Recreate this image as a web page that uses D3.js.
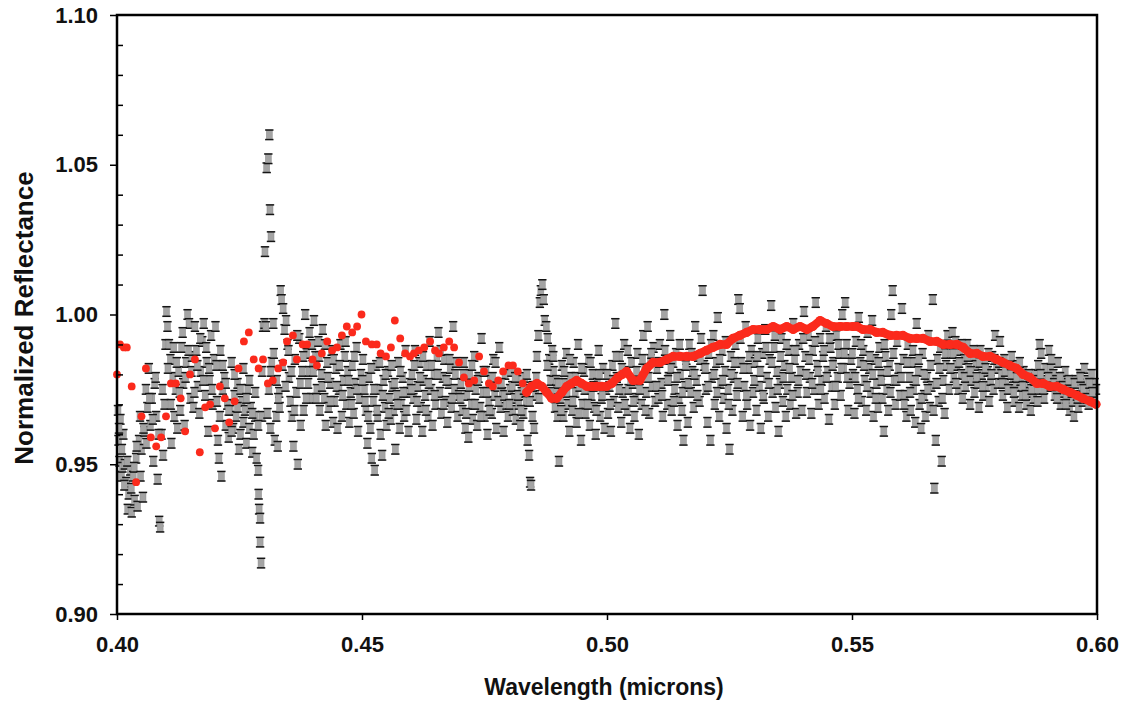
<!DOCTYPE html>
<html><head><meta charset="utf-8">
<script src="https://cdn.jsdelivr.net/npm/d3@7"></script>
<style>body{margin:0;background:#fff}svg{display:block}</style>
</head><body><svg id="c" width="1127" height="704"></svg>
<script>
// ---- axis ticks (wavelength stored in nm, labelled in microns)
const xTicks=[400,450,500,550,600];
const xTickLabels=["0.40","0.45","0.50","0.55","0.60"];
const yTicks=[0.90,0.95,1.00,1.05,1.10];
const yTickLabels=["0.90","0.95","1.00","1.05","1.10"];
const yMinorTicks=[0.91,0.92,0.93,0.94,0.96,0.97,0.98,0.99,1.01,1.02,1.03,1.04,1.06,1.07,1.08,1.09];
const xTitle="Wavelength (microns)";
const yTitle="Normalized Reflectance";
const grayErr=0.0016;

// ---- gray spectrum with error bars: [wavelength nm, reflectance]
const gray400=[[400.2,.968],[400.3,.958],[400.5,.951],[400.7,.965],[400.9,.946],[401.1,.949],[401.3,.960],[401.6,.950],[401.9,.944],[402.2,.935],[402.4,.940],[402.7,.948],[403.0,.934],[403.3,.946],[403.6,.938],[403.9,.952],[404.2,.936],[404.5,.958],[404.7,.966],[405.0,.955],[405.3,.939],[405.6,.961],[405.9,.975],[406.2,.969],[406.5,.982],[406.8,.963],[407.1,.972],[407.4,.951],[407.7,.977],[408.0,.966],[408.3,.945],[408.6,.931],[408.8,.929],[409.1,.960],[409.4,.953],[409.7,.970],
 [400.4,.962],[401.0,.955],[401.5,.943],[402.1,.951],[402.9,.942],[403.5,.949],[404.0,.956],[404.8,.946],[405.4,.962],[406.0,.957],[406.6,.972],[407.3,.965],[407.9,.979],[408.5,.960],[409.3,.975],[409.9,.990]];
const gray410=[[410.1,1.001],[410.3,.996],[410.6,.990],[410.9,.985],[411.1,.957],[411.4,.979],[411.7,.966],[412.0,.975],[412.3,.962],[412.6,.981],[412.9,.968],[413.2,.989],[413.5,.977],[413.8,.963],[414.1,.984],[414.4,1.000],[414.7,.997],[415.0,.972],[415.3,.986],[415.6,.969],[415.9,.996],[416.2,.988],[416.5,.976],[416.8,.967],[417.1,.981],[417.4,.991],[417.7,.997],[418.0,.973],[418.3,.984],[418.6,.961],[418.9,.978],[419.2,.993],[419.5,.970],[419.8,.985],
 [410.4,.982],[411.0,.970],[411.6,.989],[412.2,.984],[412.8,.974],[413.4,.994],[414.0,.979],[414.6,.988],[415.2,.981],[415.8,.974],[416.4,.983],[417.0,.992],[417.6,.978],[418.2,.989],[418.8,.982],[419.4,.975]];
const gray420=[[420.1,.996],[420.3,.983],[420.6,.958],[420.8,.952],[421.1,.988],[421.3,.946],[421.6,.975],[421.9,.979],[422.2,.963],[422.5,.970],[422.8,.959],[423.1,.968],[423.4,.984],[423.7,.962],[424.0,.973],[424.3,.966],[424.6,.977],[424.9,.955],[425.2,.960],[425.5,.971],[425.8,.964],[426.1,.968],[426.4,.957],[426.7,.975],[427.0,.962],[427.3,.969],[427.6,.954],[427.9,.960],[428.2,.966],[428.5,.952],[428.8,.948],[428.9,.940],[429.0,.935],[429.2,.932],[429.2,.924],[429.4,.917],[429.6,.966],[429.8,.996],
 [420.4,.971],[421.0,.966],[421.6,.983],[422.2,.977],[422.8,.968],[423.4,.961],[424.0,.980],[424.6,.969],[425.2,.975],[425.8,.982],[426.4,.972],[427.0,.978],[427.6,.967],[428.2,.974],[428.8,.963],[429.6,.981]];
const gray430=[[430.1,.997],[430.2,1.021],[430.4,.996],[430.55,1.049],[430.7,.967],[430.88,1.052],[431.0,.975],[431.08,1.060],[431.22,1.035],[431.3,.962],[431.43,1.026],[431.6,.984],[431.9,.997],[432.2,.958],[432.5,.966],[432.8,.956],[433.1,.974],[433.4,1.008],[433.6,1.005],[433.9,1.002],[434.2,.995],[434.5,.998],[434.8,.990],[435.1,.979],[435.4,.971],[435.7,.966],[436.0,.956],[436.3,.985],[436.6,.974],[436.9,.950],[437.2,.992],[437.5,.963],[437.8,.981],[438.1,.968],[438.4,1.000],[438.7,.987],[439.0,.977],[439.3,.994],[439.6,.972],[439.9,.983],
 [432.0,.987],[432.6,.978],[433.2,.969],[433.8,.983],[434.4,.976],[435.0,.988],[435.6,.981],[436.2,.968],[436.8,.993],[437.4,.977],[438.0,.986],[438.6,.972],[439.2,.981],[439.8,.990],[431.4,.981],[432.9,.972]];
const gray440=[[440.2,.998],[440.5,.986],[440.8,.975],[441.1,.991],[441.4,.968],[441.7,.980],[442.0,.995],[442.3,.972],[442.6,.963],[442.9,.984],[443.2,.969],[443.5,.977],[443.8,.988],[444.1,.964],[444.4,.971],[444.7,.982],[445.0,.962],[445.3,.975],[445.6,.990],[445.9,.966],[446.2,.978],[446.5,.986],[446.8,.970],[447.1,.981],[447.4,.964],[447.7,.974],[448.0,.983],[448.3,.967],[448.6,.977],[448.9,.989],[449.2,.961],[449.5,.972],[449.8,.980],
 [440.05,.981],[440.65,.972],[441.25,.986],[441.85,.976],[442.45,.990],[443.05,.979],[443.65,.971],[444.25,.985],[444.85,.976],[445.45,.983],[446.05,.973],[446.65,.991],[447.25,.978],[447.85,.970],[448.45,.986],[449.05,.975]];
const gray450=[[450.2,.985],[450.5,.975],[450.8,.968],[451.1,.957],[451.4,.979],[451.7,.962],[452.0,.952],[452.3,.971],[452.6,.948],[452.9,.983],[453.2,.966],[453.5,.975],[453.8,.960],[454.1,.953],[454.4,.978],[454.7,.969],[455.0,.963],[455.3,.981],[455.6,.972],[455.9,.965],[456.2,.976],[456.5,.968],[456.8,.955],[457.1,.973],[457.4,.984],[457.7,.962],[458.0,.970],[458.3,.979],[458.6,.966],[458.9,.988],[459.2,.974],[459.5,.961],[459.8,.977],
 [450.05,.978],[450.65,.971],[451.25,.966],[451.85,.982],[452.45,.975],[453.05,.968],[453.65,.984],[454.25,.973],[454.85,.980],[455.45,.967],[456.05,.983],[456.65,.977],[457.25,.970],[457.85,.981],[458.45,.974],[459.05,.968]];
const gray460=[[460.2,.980],[460.5,.972],[460.8,.988],[461.1,.965],[461.4,.976],[461.7,.984],[462.0,.969],[462.3,.961],[462.6,.978],[462.9,.973],[463.2,.983],[463.5,.966],[463.8,.991],[464.1,.975],[464.4,.963],[464.7,.980],[465.0,.970],[465.3,.986],[465.6,.994],[465.9,.974],[466.2,.967],[466.5,.979],[466.8,.985],[467.1,.971],[467.4,.964],[467.7,.977],[468.0,.982],[468.3,.969],[468.6,.996],[468.9,.975],[469.2,.984],[469.5,.966],[469.8,.973],
 [460.05,.975],[460.65,.983],[461.25,.971],[461.85,.979],[462.45,.986],[463.05,.968],[463.65,.977],[464.25,.983],[464.85,.973],[465.45,.980],[466.05,.988],[466.65,.970],[467.25,.978],[467.85,.985],[468.45,.972],[469.05,.980]];
const gray470=[[470.2,.977],[470.5,.968],[470.8,.984],[471.1,.962],[471.4,.973],[471.7,.959],[472.0,.980],[472.3,.970],[472.6,.965],[472.9,.986],[473.2,.975],[473.5,.963],[473.8,.979],[474.1,.969],[474.4,.992],[474.7,.974],[475.0,.966],[475.3,.981],[475.6,.960],[475.9,.971],[476.2,.978],[476.5,.967],[476.8,.985],[477.1,.973],[477.4,.962],[477.7,.976],[478.0,.989],[478.3,.969],[478.6,.974],[478.9,.961],[479.2,.980],[479.5,.970],[479.8,.966],
 [470.05,.972],[470.65,.980],[471.25,.967],[471.85,.976],[472.45,.983],[473.05,.970],[473.65,.978],[474.25,.966],[474.85,.981],[475.45,.974],[476.05,.968],[476.65,.979],[477.25,.984],[477.85,.971],[478.45,.977],[479.05,.973]];
const gray480=[[480.2,.975],[480.5,.981],[480.8,.968],[481.1,.972],[481.4,.965],[481.7,.978],[482.0,.970],[482.3,.963],[482.6,.974],[482.9,.967],[483.2,.979],[483.5,.971],[483.8,.958],[484.1,.953],[484.3,.944],[484.5,.943],[484.8,.966],[485.1,.962],[485.4,.973],[485.7,.986],[486.0,.993],[486.3,1.004],[486.5,1.008],[486.8,1.010],[487.1,1.005],[487.3,.998],[487.6,.996],[487.9,.992],[488.2,.985],[488.5,.978],[488.8,.988],[489.1,.981],[489.4,.969],[489.7,.975],
 [480.05,.970],[480.65,.976],[481.25,.979],[481.85,.973],[482.45,.968],[483.05,.975],[483.65,.980],[484.25,.971],[484.85,.976],[485.55,.979],[486.15,.972],[487.85,.983],[488.45,.974],[489.05,.986],[489.65,.978],[489.9,.966]];
const gray490=[[490.2,.951],[490.5,.972],[490.8,.983],[491.1,.966],[491.4,.977],[491.7,.987],[492.0,.970],[492.3,.961],[492.6,.979],[492.9,.968],[493.2,.984],[493.5,.974],[493.8,.964],[494.1,.990],[494.4,.976],[494.7,.958],[495.0,.970],[495.3,.981],[495.6,.967],[495.9,.975],[496.2,.985],[496.5,.963],[496.8,.973],[497.1,.980],[497.4,.969],[497.7,.960],[498.0,.977],[498.3,.988],[498.6,.966],[498.9,.972],[499.2,.982],[499.5,.962],[499.8,.975],
 [490.05,.977],[490.65,.968],[491.25,.981],[491.85,.974],[492.45,.985],[493.05,.971],[493.65,.979],[494.25,.967],[494.85,.982],[495.45,.975],[496.05,.970],[496.65,.984],[497.25,.976],[497.85,.968],[498.45,.980],[499.05,.973]];
const gray500=[[500.2,.967],[500.5,.976],[500.8,.961],[501.1,.983],[501.4,.971],[501.7,.997],[502.0,.979],[502.3,.969],[502.6,.986],[502.9,.964],[503.2,.974],[503.5,.990],[503.8,.981],[504.1,.968],[504.4,.975],[504.7,.962],[505.0,.984],[505.3,.977],[505.6,.966],[505.9,.972],[506.2,.987],[506.5,.960],[506.8,.979],[507.1,.970],[507.4,.993],[507.7,.982],[508.0,.974],[508.3,.996],[508.6,.967],[508.9,.985],[509.2,.976],[509.5,.989],[509.8,.971],
 [500.05,.980],[500.65,.970],[501.25,.978],[501.85,.986],[502.45,.975],[503.05,.982],[503.65,.970],[504.25,.988],[504.85,.978],[505.45,.971],[506.05,.981],[506.65,.975],[507.25,.985],[507.85,.968],[508.45,.979],[509.05,.987]];
const gray510=[[510.2,.982],[510.5,.972],[510.8,.990],[511.1,.977],[511.4,.966],[511.7,1.000],[512.0,.985],[512.3,.970],[512.6,.979],[512.9,.993],[513.2,.968],[513.5,.984],[513.8,.975],[514.1,.987],[514.4,.963],[514.7,.972],[515.0,.980],[515.3,.968],[515.6,.958],[515.9,.976],[516.2,.985],[516.5,.964],[516.8,.990],[517.1,.974],[517.4,.981],[517.7,.969],[518.0,.996],[518.3,.978],[518.6,.986],[518.9,.971],[519.2,.992],[519.5,1.008],[519.8,.983],
 [510.05,.976],[510.65,.984],[511.25,.973],[511.85,.988],[512.45,.978],[513.05,.982],[513.65,.971],[514.25,.979],[514.85,.990],[515.45,.974],[516.05,.983],[516.65,.977],[517.25,.987],[517.85,.980],[518.45,.973],[519.05,.985]];
const gray520=[[520.2,.975],[520.5,.964],[520.8,.987],[521.1,.958],[521.4,.979],[521.7,.993],[522.0,.970],[522.3,.984],[522.6,.999],[522.9,.966],[523.2,.977],[523.5,.988],[523.8,.972],[524.1,.981],[524.4,.962],[524.7,.975],[525.0,.955],[525.3,.986],[525.6,.968],[525.9,.979],[526.2,.990],[526.5,.973],[526.8,1.005],[527.1,1.002],[527.4,.984],[527.7,.966],[528.0,.976],[528.3,.996],[528.6,.970],[528.9,.982],[529.2,.963],[529.5,.988],[529.8,.974],
 [520.05,.982],[520.65,.976],[521.25,.990],[521.85,.980],[522.45,.974],[523.05,.985],[523.65,.978],[524.25,.991],[524.85,.970],[525.45,.980],[526.05,.984],[526.65,.977],[527.25,.992],[527.85,.982],[528.45,.973],[529.05,.986]];
const gray530=[[530.2,.984],[530.5,.968],[530.8,.992],[531.1,.976],[531.4,.962],[531.7,.987],[532.0,.972],[532.3,.995],[532.6,.979],[532.9,.966],[533.2,.985],[533.5,1.003],[533.8,.974],[534.1,.989],[534.4,.969],[534.7,.981],[535.0,.961],[535.3,.977],[535.6,.992],[535.9,.971],[536.2,.983],[536.5,.966],[536.8,.975],[537.1,.988],[537.4,.970],[537.7,.979],[538.0,.997],[538.3,.985],[538.6,.967],[538.9,.974],[539.2,.990],[539.5,.981],[539.8,.968],
 [530.05,.978],[530.65,.986],[531.25,.981],[531.85,.973],[532.45,.989],[533.05,.977],[533.65,.984],[534.25,.993],[534.85,.975],[535.45,.986],[536.05,.979],[536.65,.990],[537.25,.982],[537.85,.973],[538.45,.988],[539.05,.978]];
const gray540=[[540.2,1.001],[540.5,.986],[540.8,.974],[541.1,.993],[541.4,.979],[541.7,.967],[542.0,.988],[542.3,.975],[542.6,1.004],[542.9,.983],[543.2,.970],[543.5,.992],[543.8,.978],[544.1,.986],[544.4,.972],[544.7,.996],[545.0,.981],[545.3,.965],[545.6,.989],[545.9,.976],[546.2,.984],[546.5,.970],[546.8,.993],[547.1,.979],[547.4,.987],[547.7,.973],[548.0,1.000],[548.3,.982],[548.6,1.004],[548.9,.990],[549.2,.968],[549.5,.977],[549.8,.985],
 [540.05,.992],[540.65,.980],[541.25,.985],[541.85,.977],[542.45,.991],[543.05,.981],[543.65,.975],[544.25,.988],[544.85,.979],[545.45,.992],[546.05,.983],[546.65,.976],[547.25,.990],[547.85,.982],[548.45,.987],[549.05,.979]];
const gray550=[[550.2,.980],[550.5,.967],[550.8,.991],[551.1,.975],[551.4,.999],[551.7,.984],[552.0,.971],[552.3,.988],[552.6,.978],[552.9,.968],[553.2,.994],[553.5,.982],[553.8,.974],[554.1,.998],[554.4,.966],[554.7,.985],[555.0,.977],[555.3,.969],[555.6,.989],[555.9,.980],[556.2,.972],[556.5,.961],[556.8,.986],[557.1,.975],[557.4,.968],[557.7,.983],[558.0,1.000],[558.3,1.008],[558.6,.978],[558.9,.970],[559.2,.991],[559.5,.982],[559.8,.973],
 [550.05,.987],[550.65,.979],[551.25,.972],[551.85,.990],[552.45,.983],[553.05,.976],[553.65,.986],[554.25,.980],[554.85,.972],[555.45,.984],[556.05,.978],[556.65,.990],[557.25,.981],[557.85,.974],[558.45,.987],[559.05,.978]];
const gray560=[[560.2,1.002],[560.5,.985],[560.8,.973],[561.1,.966],[561.4,.990],[561.7,.979],[562.0,.968],[562.3,.984],[562.6,.975],[562.9,.964],[563.2,.997],[563.5,.981],[563.8,.970],[564.1,.962],[564.4,.987],[564.7,.973],[565.0,.966],[565.3,.979],[565.6,.993],[565.9,.969],[566.2,.976],[566.5,1.005],[566.8,.942],[567.1,.958],[567.4,.985],[567.7,.971],[568.0,.989],[568.3,.951],[568.6,.978],[568.9,.967],[569.2,.983],[569.5,.993],[569.8,.975],
 [560.05,.979],[560.65,.970],[561.25,.984],[561.85,.974],[562.45,.988],[563.05,.978],[563.65,.985],[564.25,.972],[564.85,.980],[565.45,.975],[566.05,.983],[566.65,.968],[567.25,.977],[567.85,.982],[568.45,.972],[569.05,.987]];
const gray570=[[570.2,.987],[570.5,.994],[570.8,.979],[571.1,.991],[571.4,.983],[571.7,.975],[572.0,.988],[572.3,.980],[572.6,.972],[572.9,.985],[573.2,.976],[573.5,.990],[573.8,.982],[574.1,.970],[574.4,.978],[574.7,.986],[575.0,.974],[575.3,.983],[575.6,.977],[575.9,.969],[576.2,.988],[576.5,.980],[576.8,.973],[577.1,.985],[577.4,.976],[577.7,.981],[578.0,.971],[578.3,.978],[578.6,.986],[578.9,.975],[579.2,.993],[579.5,.982],[579.8,.977],
 [570.05,.982],[570.65,.987],[571.25,.977],[571.85,.984],[572.45,.990],[573.05,.979],[573.65,.986],[574.25,.981],[574.85,.988],[575.45,.979],[576.05,.984],[576.65,.976],[577.25,.982],[577.85,.987],[578.45,.980],[579.05,.985]];
const gray580=[[580.2,.991],[580.5,.980],[580.8,.973],[581.1,.985],[581.4,.977],[581.7,.969],[582.0,.983],[582.3,.975],[582.6,.986],[582.9,.979],[583.2,.971],[583.5,.976],[583.8,.983],[584.1,.969],[584.4,.978],[584.7,.973],[585.0,.981],[585.3,.976],[585.6,.970],[585.9,.979],[586.2,.974],[586.5,.968],[586.8,.977],[587.1,.972],[587.4,.980],[587.7,.975],[588.0,.983],[588.3,.990],[588.6,.987],[588.9,.978],[589.2,.972],[589.5,.982],[589.8,.976],
 [580.05,.984],[580.65,.977],[581.25,.981],[581.85,.975],[582.45,.980],[583.05,.974],[583.65,.979],[584.25,.984],[584.85,.976],[585.45,.973],[586.05,.980],[586.65,.975],[587.25,.978],[587.85,.971],[588.45,.980],[589.05,.975]];
const gray590=[[590.2,.988],[590.5,.982],[590.8,.976],[591.1,.980],[591.4,.973],[591.7,.978],[592.0,.984],[592.3,.975],[592.6,.970],[592.9,.979],[593.2,.974],[593.5,.981],[593.8,.972],[594.1,.977],[594.4,.968],[594.7,.975],[595.0,.971],[595.3,.966],[595.6,.978],[595.9,.973],[596.2,.969],[596.5,.980],[596.8,.976],[597.1,.971],[597.4,.982],[597.7,.974],[598.0,.978],[598.3,.970],[598.6,.975],[598.9,.980],[599.2,.973],[599.5,.977],[599.8,.975],
 [590.05,.979],[590.65,.985],[591.25,.977],[591.85,.972],[592.45,.979],[593.05,.976],[593.65,.970],[594.25,.978],[594.85,.974],[595.45,.977],[596.05,.972],[596.65,.979],[597.25,.975],[597.85,.972],[598.45,.977],[599.05,.974]];

// ---- red comparison spectrum: [wavelength nm, reflectance]
const redScatter=[[400.0,.980],[400.6,.990],[401.4,.989],[402.0,.989],[403.0,.976],[403.9,.944],[405.0,.966],[405.9,.982],[406.9,.959],[408.0,.956],[409.0,.959],[410.0,.966],[411.0,.977],[412.0,.977],[413.0,.972],[413.9,.961],[414.9,.980],[415.9,.985],[416.9,.954],[418.0,.969],[419.0,.970],[420.0,.962],[421.0,.976],[422.0,.972],[422.9,.964],[424.0,.971],[424.8,.982],[425.9,.991],[426.9,.994],[427.9,.985],[428.9,.982],[429.8,.985],[430.8,.977],[431.8,.978],[432.9,.982],[433.9,.984],[434.7,.991],[435.9,.993],[436.7,.985],[437.9,.990],[438.8,.990],[439.9,.985],[440.8,.983],[441.8,.987],[442.9,.991],[443.9,.988],[444.9,.989],[445.9,.993],[446.9,.996],[448.0,.994],[449.0,.996],[449.9,1.000],[450.8,.991],[452.0,.990],[453.0,.990],[453.8,.987],[454.9,.986],[455.9,.989],[456.7,.998],[457.8,.992],[458.8,.987],[459.8,.986],[460.6,.987],[461.6,.988],[462.7,.989],[463.9,.991],[464.9,.988],[465.7,.987],[466.7,.989],[467.8,.991],[468.8,.989],[469.8,.984],[470.8,.979],[471.8,.977],[472.9,.978],[473.9,.986],[474.9,.981],[475.9,.977],[476.7,.976],[477.8,.978],[478.8,.981],[479.9,.983],[480.8,.983],[481.8,.981],[482.8,.977]];
const redDense=[[483.6,.974],[484.6,.976],[485.7,.977],[486.7,.976],[487.7,.974],[488.7,.972],[489.7,.972],[490.8,.974],[491.8,.976],[492.8,.977],[493.8,.978],[494.8,.977],[495.9,.976],[496.9,.976],[497.9,.976],[498.9,.976],[499.9,.976],[501.0,.977],[502.2,.979],[503.1,.980],[504.0,.981],[505.3,.978],[506.7,.978],[508.1,.982],[509.4,.984],[510.8,.984],[512.2,.985],[513.5,.986],[514.9,.986],[516.3,.986],[517.6,.986],[519.0,.987],[520.3,.988],[521.6,.989],[523.1,.990],[524.4,.990],[525.7,.992],[527.1,.993],[528.5,.994],[529.8,.995],[531.2,.995],[532.6,.995],[533.9,.996],[535.3,.995],[536.7,.996],[538.0,.995],[539.4,.996],[540.8,.995],[542.0,.996],[543.5,.998],[544.8,.997],[546.1,.996],[547.6,.996],[548.9,.996],[550.2,.996],[551.0,.996],[552.2,.995],[553.7,.995],[555.0,.994],[556.3,.994],[557.8,.993],[559.1,.993],[560.4,.993],[561.8,.992],[563.2,.992],[564.5,.992],[565.9,.991],[567.3,.991],[568.6,.990],[570.0,.990],[571.4,.990],[572.7,.989],[574.1,.987],[575.5,.987],[576.7,.986],[578.2,.986],[579.5,.985],[580.8,.984],[582.2,.983],[583.6,.982],[584.9,.980],[586.3,.979],[587.7,.977],[589.0,.977],[590.4,.976],[591.8,.976],[593.1,.975],[594.5,.974],[595.9,.973],[597.1,.972],[598.6,.971],[599.8,.970]];

// ---- drawing
const grayAll=[].concat(gray400,gray410,gray420,gray430,gray440,gray450,gray460,gray470,gray480,gray490,gray500,gray510,gray520,gray530,gray540,gray550,gray560,gray570,gray580,gray590);

const svg=d3.select("#c");
const M={l:117,t:15,r:1097,b:614};
const x=d3.scaleLinear().domain([xTicks[0],xTicks[xTicks.length-1]]).range([M.l,M.r]);
const y=d3.scaleLinear().domain([yTicks[0],yTicks[yTicks.length-1]]).range([M.b,M.t]);
const font="'Liberation Sans', Arial, Helvetica, sans-serif";

// gray markers (body + capped error bar)
const gm=svg.append("g").selectAll("g.m").data(grayAll).join("g").attr("class","m")
  .attr("transform",d=>`translate(${x(d[0])},0)`);
gm.append("rect").attr("x",-3).attr("width",6)
  .attr("y",d=>y(d[1]+grayErr)).attr("height",d=>y(d[1]-grayErr)-y(d[1]+grayErr))
  .attr("fill","#a4a4a4").attr("stroke","#8e8e8e").attr("stroke-width",0.5);
gm.append("line").attr("x1",-4.2).attr("x2",4.2)
  .attr("y1",d=>y(d[1]+grayErr)).attr("y2",d=>y(d[1]+grayErr))
  .attr("stroke","#151515").attr("stroke-width",1.5);
gm.append("line").attr("x1",-4.2).attr("x2",4.2)
  .attr("y1",d=>y(d[1]-grayErr)).attr("y2",d=>y(d[1]-grayErr))
  .attr("stroke","#151515").attr("stroke-width",1.5);

// red series
const red="#fb2a1c";
svg.append("path").datum(redDense)
  .attr("d",d3.line().x(d=>x(d[0])).y(d=>y(d[1])))
  .attr("fill","none").attr("stroke",red).attr("stroke-width",8.5)
  .attr("stroke-linejoin","round").attr("stroke-linecap","round");
svg.append("g").selectAll("circle").data(redDense).join("circle")
  .attr("cx",d=>x(d[0])).attr("cy",d=>y(d[1])).attr("r",4.6).attr("fill",red);
svg.append("g").selectAll("circle").data(redScatter).join("circle")
  .attr("cx",d=>x(d[0])).attr("cy",d=>y(d[1])).attr("r",3.9).attr("fill",red);

// frame
svg.append("rect").attr("x",M.l).attr("y",M.t).attr("width",M.r-M.l).attr("height",M.b-M.t)
  .attr("fill","none").attr("stroke","#000").attr("stroke-width",2.5);

// axes
const yAx=svg.append("g").attr("transform",`translate(${M.l},0)`)
  .call(d3.axisLeft(y).tickValues(yTicks).tickFormat((d,i)=>yTickLabels[i]).tickSize(7).tickPadding(12));
const yMin=svg.append("g").attr("transform",`translate(${M.l},0)`)
  .call(d3.axisRight(y).tickValues(yMinorTicks).tickFormat("").tickSize(6));
const xAx=svg.append("g").attr("transform",`translate(0,${M.b})`)
  .call(d3.axisBottom(x).tickValues(xTicks).tickFormat((d,i)=>xTickLabels[i]).tickSize(6).tickPadding(16));
[yAx,yMin,xAx].forEach(g=>{
  g.select(".domain").remove();
  g.selectAll(".tick line").attr("stroke","#000").attr("stroke-width",1.5);
  g.selectAll("text").attr("font-family",font).attr("font-size",22).attr("font-weight","bold").attr("fill","#111");
});

// titles
svg.append("text").attr("x",604).attr("y",695).attr("text-anchor","middle")
  .attr("font-family",font).attr("font-size",23).attr("font-weight","bold").attr("fill","#111").text(xTitle);
svg.append("text").attr("transform","translate(33,318) rotate(-90)").attr("text-anchor","middle")
  .attr("font-family",font).attr("font-size",26).attr("font-weight","bold").attr("fill","#111").text(yTitle);
</script>
</body></html>
